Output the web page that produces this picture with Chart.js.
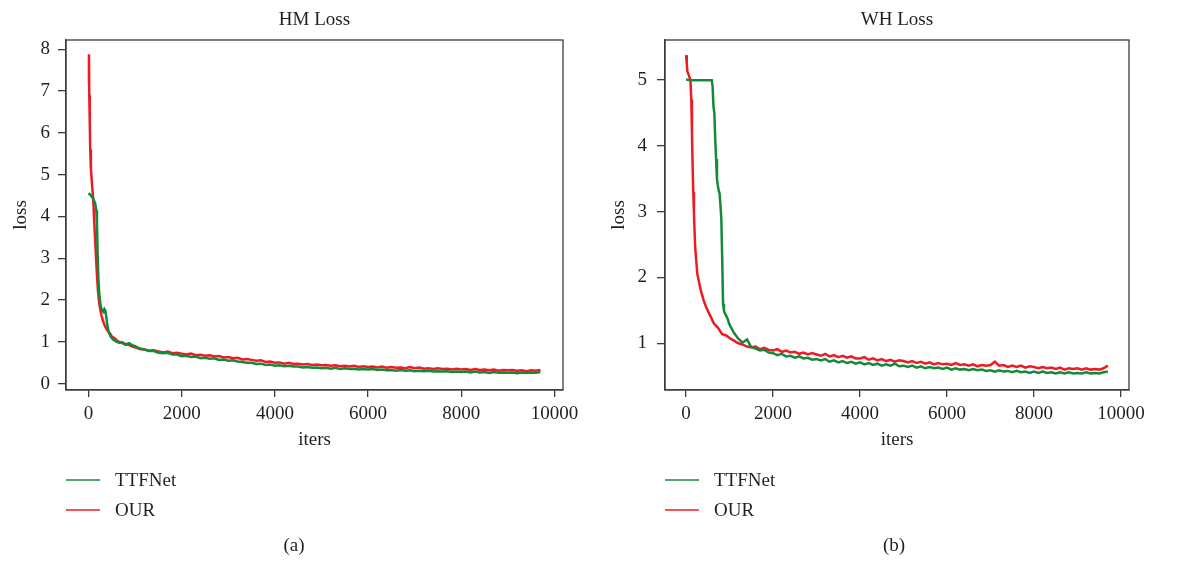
<!DOCTYPE html>
<html><head><meta charset="utf-8">
<script src="https://cdn.jsdelivr.net/npm/chart.js@4.4.1/dist/chart.umd.min.js"></script>
<style>
html,body{margin:0;padding:0;background:#fff;}
#wrap{position:relative;width:1184px;height:562px;overflow:hidden;}
.pane{position:absolute;top:0;width:592px;height:562px;}
</style></head><body>
<div id="wrap">
<div class="pane" style="left:0"><canvas id="c1" width="592" height="562"></canvas></div>
<div class="pane" style="left:592px"><canvas id="c2" width="592" height="562"></canvas></div>
</div>
<script>
// ---------- data ----------
const seriesNames = ["TTFNet", "OUR"];
const panelTitles = ["HM Loss", "WH Loss"];
const panelCaptions = ["(a)", "(b)"];
const xTicks = [0, 2000, 4000, 6000, 8000, 10000];
const hmYTicks = [0, 1, 2, 3, 4, 5, 6, 7, 8];
const whYTicks = [1, 2, 3, 4, 5];

const tailIters = [1000,1100,1200,1300,1400,1500,1600,1700,1800,1900,
2000,2100,2200,2300,2400,2500,2600,2700,2800,2900,
3000,3100,3200,3300,3400,3500,3600,3700,3800,3900,
4000,4100,4200,4300,4400,4500,4600,4700,4800,4900,
5000,5100,5200,5300,5400,5500,5600,5700,5800,5900,
6000,6100,6200,6300,6400,6500,6600,6700,6800,6900,
7000,7100,7200,7300,7400,7500,7600,7700,7800,7900,
8000,8100,8200,8300,8400,8500,8600,8700,8800,8900,
9000,9100,9200,9300,9400,9500,9600,9700];

// HM loss
const hmTtfHeadIters = [0,50,100,140,165,180,195,210,230,260,290,320,340,360,380,400,430,470,520,580,650,720,800,870,940];
const hmTtfHead = [4.56,4.5,4.42,4.32,4.15,3.8,3.1,2.5,2.15,1.85,1.76,1.72,1.78,1.74,1.6,1.42,1.24,1.13,1.06,1.02,0.98,0.99,0.94,0.97,0.92];
const hmTtfTail = [0.90,0.84,0.82,0.78,0.78,0.74,0.73,0.74,0.70,0.70,
0.66,0.67,0.64,0.65,0.61,0.62,0.60,0.61,0.57,0.58,
0.55,0.56,0.53,0.52,0.50,0.50,0.47,0.48,0.45,0.46,
0.43,0.44,0.42,0.43,0.41,0.41,0.39,0.40,0.38,0.39,
0.37,0.38,0.36,0.38,0.35,0.37,0.35,0.36,0.34,0.35,
0.34,0.35,0.33,0.34,0.32,0.33,0.31,0.33,0.31,0.32,
0.30,0.31,0.30,0.31,0.29,0.30,0.29,0.30,0.28,0.29,
0.28,0.29,0.27,0.29,0.27,0.28,0.26,0.28,0.26,0.27,
0.26,0.27,0.25,0.27,0.26,0.27,0.26,0.28];
const hmOurHeadIters = [0,8,15,25,35,50,75,100,120,140,160,180,200,225,250,280,310,350,400,450,500,560,620,700,780,860,940];
const hmOurHead = [7.15,7.88,6.9,6.3,5.6,5.15,4.75,4.4,3.9,3.45,3.0,2.6,2.25,1.95,1.78,1.62,1.5,1.38,1.28,1.22,1.13,1.09,1.02,0.99,0.94,0.93,0.89];
const hmOurTail = [0.87,0.83,0.82,0.79,0.80,0.77,0.75,0.77,0.73,0.74,
0.72,0.70,0.72,0.68,0.69,0.67,0.68,0.65,0.66,0.63,
0.64,0.61,0.62,0.58,0.59,0.57,0.55,0.56,0.52,0.53,
0.50,0.51,0.48,0.50,0.47,0.48,0.46,0.47,0.45,0.46,
0.44,0.45,0.43,0.44,0.42,0.43,0.41,0.43,0.40,0.42,
0.40,0.41,0.39,0.41,0.38,0.40,0.38,0.39,0.37,0.40,
0.37,0.39,0.36,0.37,0.35,0.37,0.35,0.36,0.34,0.36,
0.34,0.35,0.33,0.35,0.33,0.34,0.32,0.34,0.31,0.33,
0.32,0.33,0.31,0.32,0.30,0.32,0.31,0.33];

// WH loss
const whTtfHeadIters = [0,100,200,300,400,500,590,610,630,650,670,690,710,730,750,770,790,810,830,850,870,890,920,950,980];
const whTtfHead = [5.01,5.0,5.0,5.0,5.0,5.0,5.0,4.9,4.6,4.5,4.1,3.8,3.5,3.4,3.32,3.28,3.1,2.9,2.3,1.6,1.5,1.46,1.42,1.38,1.32];
const whTtfTail = [1.28,1.16,1.07,1.01,1.06,0.94,0.92,0.89,0.90,0.86,
0.85,0.82,0.84,0.80,0.81,0.78,0.80,0.77,0.78,0.75,
0.76,0.74,0.76,0.72,0.74,0.71,0.73,0.70,0.72,0.69,
0.71,0.68,0.70,0.67,0.69,0.66,0.68,0.66,0.69,0.65,
0.66,0.64,0.66,0.63,0.65,0.62,0.64,0.62,0.63,0.61,
0.63,0.60,0.62,0.60,0.61,0.59,0.61,0.59,0.60,0.58,
0.59,0.57,0.59,0.57,0.58,0.56,0.58,0.56,0.57,0.55,
0.57,0.55,0.57,0.55,0.56,0.54,0.56,0.54,0.56,0.54,
0.55,0.54,0.56,0.54,0.55,0.54,0.56,0.57];
const whOurHeadIters = [0,15,30,60,100,120,135,150,165,180,195,210,230,260,300,340,400,460,540,640,730,830,920];
const whOurHead = [5.38,5.25,5.13,5.08,5.0,4.7,4.2,3.7,3.3,3.0,2.7,2.45,2.28,2.05,1.92,1.8,1.66,1.55,1.44,1.30,1.24,1.14,1.12];
const whOurTail = [1.08,1.04,1.00,0.98,0.95,0.94,0.95,0.91,0.93,0.90,
0.89,0.91,0.87,0.89,0.86,0.87,0.84,0.86,0.83,0.85,
0.83,0.81,0.84,0.80,0.82,0.79,0.81,0.78,0.80,0.77,
0.77,0.79,0.75,0.77,0.74,0.76,0.73,0.75,0.72,0.74,
0.73,0.71,0.73,0.70,0.72,0.69,0.71,0.68,0.70,0.68,
0.69,0.67,0.70,0.67,0.68,0.66,0.68,0.65,0.67,0.66,
0.67,0.72,0.66,0.67,0.64,0.66,0.64,0.66,0.63,0.65,
0.64,0.62,0.64,0.62,0.63,0.61,0.63,0.60,0.62,0.61,
0.62,0.60,0.62,0.60,0.61,0.60,0.62,0.66];

// ---------- styling ----------
const GREEN = '#15893a';
const RED = '#ec1c24';
const AXIS = '#3c3c3c';
const TEXT = '#231f20';
const FAMILY = "'Liberation Serif', 'DejaVu Serif', serif";
const FSIZE = 19;

function pts(headIters, head, tail) {
  const xs = headIters.concat(tailIters);
  const ys = head.concat(tail);
  return xs.map((x, i) => ({x: x, y: ys[i]}));
}

const panelDecor = {
  id: 'panelDecor',
  afterDraw(chart, args, o) {
    const {ctx, chartArea: a} = chart;
    ctx.save();
    ctx.strokeStyle = AXIS; ctx.lineWidth = 1.3;
    ctx.strokeRect(a.left, a.top, a.right - a.left, a.bottom - a.top);
    ctx.fillStyle = TEXT;
    ctx.font = FSIZE + 'px ' + FAMILY;
    ctx.textBaseline = 'middle';
    ctx.textAlign = 'center';
    ctx.fillText(o.title, (a.left + a.right) / 2, o.titleY);
    chart.data.datasets.forEach((ds, i) => {
      const y = o.legendY + i * o.legendGap;
      ctx.strokeStyle = ds.borderColor; ctx.lineWidth = 1.6;
      ctx.beginPath(); ctx.moveTo(o.legendX, y); ctx.lineTo(o.legendX + 34, y); ctx.stroke();
      ctx.textAlign = 'left';
      ctx.fillText(ds.label, o.legendX + 49, y + 1);
    });
    ctx.textAlign = 'center';
    ctx.fillText(o.caption, o.captionX, o.captionY);
    ctx.restore();
  }
};

function makePanel(canvasId, cfg) {
  const font = {family: FAMILY, size: FSIZE};
  return new Chart(document.getElementById(canvasId), {
    type: 'line',
    data: {datasets: [
      {label: seriesNames[0], data: cfg.ttf, borderColor: GREEN, backgroundColor: GREEN, borderWidth: 2.5, pointRadius: 0, tension: 0, fill: false},
      {label: seriesNames[1], data: cfg.our, borderColor: RED, backgroundColor: RED, borderWidth: 2.5, pointRadius: 0, tension: 0, fill: false}
    ]},
    options: {
      responsive: false, animation: false, devicePixelRatio: 1,
      parsing: true,
      layout: {padding: {left: 0, right: cfg.padRight, top: 40, bottom: 110}},
      plugins: {legend: {display: false}, title: {display: false}, tooltip: {enabled: false},
        panelDecor: {title: cfg.title, titleY: 20, legendX: cfg.legendX, legendY: 480, legendGap: 30,
          caption: cfg.caption, captionX: cfg.captionX, captionY: 546}},
      scales: {
        x: {type: 'linear', min: -485, max: 10185,
          afterBuildTicks: s => { s.ticks = xTicks.map(v => ({value: v})); },
          ticks: {font: font, color: TEXT, padding: 6, maxRotation: 0, autoSkip: false, callback: v => String(v)},
          grid: {drawOnChartArea: false, tickLength: 7, color: AXIS, lineWidth: 1.3},
          border: {color: AXIS, width: 1.3},
          title: {display: true, text: 'iters', font: font, color: TEXT, padding: {top: 2, bottom: 1}},
          afterFit: s => { s.height = 62; }
        },
        y: {type: 'linear', min: cfg.yMin, max: cfg.yMax,
          afterBuildTicks: s => { s.ticks = cfg.yTicks.map(v => ({value: v})); },
          ticks: {font: font, color: TEXT, padding: cfg.yLabelPad, autoSkip: false, callback: v => String(v)},
          grid: {drawOnChartArea: false, tickLength: 8, color: AXIS, lineWidth: 1.3},
          border: {color: AXIS, width: 1.3},
          title: {display: true, text: 'loss', font: font, color: TEXT, padding: {top: cfg.yTitlePad, bottom: 0}},
          afterFit: s => { s.width = cfg.yWidth; }
        }
      }
    },
    plugins: [panelDecor]
  });
}

makePanel('c1', {
  title: panelTitles[0], caption: panelCaptions[0],
  ttf: pts(hmTtfHeadIters, hmTtfHead, hmTtfTail),
  our: pts(hmOurHeadIters, hmOurHead, hmOurTail),
  yMin: -0.15, yMax: 8.22, yTicks: hmYTicks,
  yWidth: 66, padRight: 29, yLabelPad: 8, yTitlePad: 10,
  legendX: 66, captionX: 294
});
makePanel('c2', {
  title: panelTitles[1], caption: panelCaptions[1],
  ttf: pts(whTtfHeadIters, whTtfHead, whTtfTail),
  our: pts(whOurHeadIters, whOurHead, whOurTail),
  yMin: 0.29, yMax: 5.61, yTicks: whYTicks,
  yWidth: 73, padRight: 55, yLabelPad: 10, yTitlePad: 16,
  legendX: 73, captionX: 302
});
</script>
</body></html>
